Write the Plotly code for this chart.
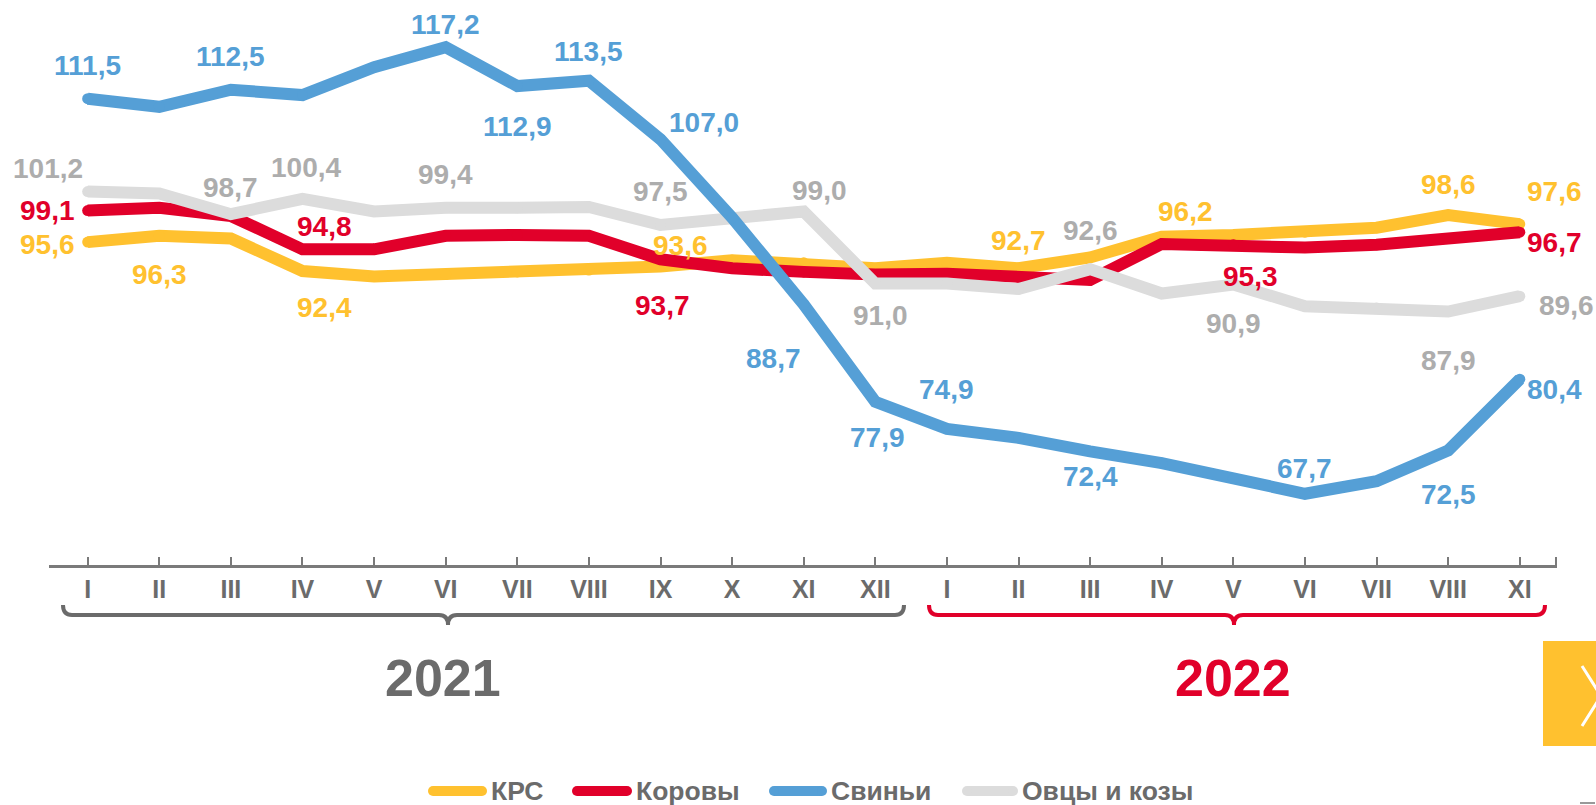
import plotly.graph_objects as go

# ---------------- data ----------------
months = ["I", "II", "III", "IV", "V", "VI", "VII", "VIII", "IX", "X", "XI", "XII",
          "I", "II", "III", "IV", "V", "VI", "VII", "VIII", "XI"]
years = ["2021", "2022"]

krs = [95.6, 96.3, 96.0, 92.4, 91.8, 92.0, 92.3, 92.5, 92.9, 93.6, 93.3, 92.7,
       93.3, 92.7, 93.9, 96.2, 96.4, 96.7, 97.2, 98.6, 97.6]
korovy = [99.1, 99.4, 98.5, 94.8, 94.8, 96.3, 96.4, 96.3, 93.7, 92.7, 92.3, 92.0,
          92.1, 91.7, 91.4, 95.4, 95.3, 95.0, 95.3, 96.0, 96.7]
svini = [111.5, 110.6, 112.5, 111.9, 115.0, 117.2, 112.9, 113.5, 107.0, 98.3, 88.7, 77.9,
         74.9, 73.9, 72.4, 71.1, 69.4, 67.7, 69.1, 72.5, 80.4]
ovtsy = [101.2, 101.0, 98.7, 100.4, 99.0, 99.4, 99.4, 99.5, 97.5, 98.4, 99.0, 91.0,
         91.0, 90.4, 92.6, 89.9, 90.9, 88.5, 88.3, 87.9, 89.6]

series_names = ["КРС", "Коровы", "Свиньи", "Овцы и козы"]

# ---------------- styles ----------------
C_YEL = "#FFC12F"
C_RED = "#E1002A"
C_BLU = "#559FD6"
C_GRY = "#DCDCDC"
C_GRY_TXT = "#ADADAD"
C_AXIS = "#6B6B6B"
FONT = "Liberation Sans, Arial, sans-serif"

W, H = 1596, 805
ML, MR, MT, MB = 49, 39, 10, 240
PW, PH = W - ML - MR, H - MT - MB


def px(x):
    return (x - ML) / PW


def py(y):
    return (H - MB - y) / PH


# label offsets (index: (dx, dy) in pixels, dy positive = down)
lab_off = {
    "Свиньи": {0: (0, -33), 2: (0, -33), 5: (0, -23), 6: (0, 40), 7: (0, -29), 8: (43, -17),
               10: (-30, 54), 11: (2, 36), 12: (0, -39), 14: (0, 25), 17: (0, -25),
               19: (0, 44), 20: (35, 10)},
    "Овцы и козы": {0: (-40, -23), 2: (0, -27), 3: (4, -31), 5: (0, -33), 8: (0, -33),
                    10: (16, -21), 11: (5, 32), 14: (0, -39), 16: (0, 39), 19: (0, 49),
                    20: (47, 9)},
    "Коровы": {0: (-40, 0), 3: (22, -23), 8: (2, 46), 16: (17, 32), 20: (35, 10)},
    "КРС": {0: (-40, 2), 1: (0, 39), 3: (22, 37), 9: (-52, -15), 13: (0, -28),
            15: (24, -25), 19: (0, -31), 20: (35, -33)},
}

data = {"КРС": krs, "Коровы": korovy, "Свиньи": svini, "Овцы и козы": ovtsy}
line_col = {"КРС": C_YEL, "Коровы": C_RED, "Свиньи": C_BLU, "Овцы и козы": C_GRY}
text_col = {"КРС": C_YEL, "Коровы": C_RED, "Свиньи": C_BLU, "Овцы и козы": C_GRY_TXT}
draw_order = ["КРС", "Коровы", "Овцы и козы", "Свиньи"]

xs = list(range(len(months)))

fig = go.Figure()
for name in draw_order:
    fig.add_trace(go.Scatter(
        x=xs, y=data[name], name=name, mode="lines+markers",
        line=dict(color=line_col[name], width=12),
        marker=dict(color=line_col[name], size=11, line=dict(width=0)),
        showlegend=False, hoverinfo="skip"))

annotations = []
for name in draw_order:
    vals = data[name]
    for i, (dx, dy) in lab_off[name].items():
        annotations.append(dict(
            x=i, y=vals[i], xref="x", yref="y",
            text=f"{vals[i]:.1f}".replace(".", ","),
            showarrow=False, xshift=dx, yshift=-dy,
            font=dict(family=FONT, size=28, color=text_col[name], weight="bold")))

# year labels
annotations.append(dict(x=px(443), y=py(678), xref="paper", yref="paper", text=years[0],
                        showarrow=False, xanchor="center", yanchor="middle",
                        font=dict(family=FONT, size=52, color=C_AXIS, weight="bold")))
annotations.append(dict(x=px(1233), y=py(678), xref="paper", yref="paper", text=years[1],
                        showarrow=False, xanchor="center", yanchor="middle",
                        font=dict(family=FONT, size=52, color=C_RED, weight="bold")))

shapes = []


def brace(x0, x1, xm, ytop, yline, ybot, color):
    r = 9
    p = (f"M {px(x0)},{py(ytop)} Q {px(x0)},{py(yline)} {px(x0 + r)},{py(yline)} "
         f"L {px(xm - r)},{py(yline)} Q {px(xm)},{py(yline)} {px(xm)},{py(ybot)} "
         f"Q {px(xm)},{py(yline)} {px(xm + r)},{py(yline)} "
         f"L {px(x1 - r)},{py(yline)} Q {px(x1)},{py(yline)} {px(x1)},{py(ytop)}")
    return dict(type="path", path=p, xref="paper", yref="paper",
                line=dict(color=color, width=4), layer="above")


shapes.append(brace(63, 904, 448, 605, 615, 625, C_AXIS))
shapes.append(brace(929, 1545, 1234, 605, 615, 625, C_RED))

# manual legend
leg_items = [("КРС", 428, 487, 489), ("Коровы", 572, 632, 634),
             ("Свиньи", 769, 827, 829), ("Овцы и козы", 962, 1018, 1020)]
LY = 791
for name, x0, x1, tx in leg_items:
    col = line_col[name]
    shapes.append(dict(type="line", xref="paper", yref="paper",
                       x0=px(x0 + 5), x1=px(x1 - 5), y0=py(LY), y1=py(LY),
                       line=dict(color=col, width=10)))
    for cx in (x0 + 5, x1 - 5):
        shapes.append(dict(type="circle", xref="paper", yref="paper",
                           x0=px(cx - 5), x1=px(cx + 5), y0=py(LY - 5), y1=py(LY + 5),
                           fillcolor=col, line=dict(width=0)))
    annotations.append(dict(x=px(tx), y=py(LY), xref="paper", yref="paper", text=name,
                            showarrow=False, xanchor="left", yanchor="middle",
                            font=dict(family=FONT, size=26.5, color=C_AXIS, weight="bold")))

# yellow next button
shapes.append(dict(type="rect", xref="paper", yref="paper",
                   x0=px(1543), x1=px(1600), y0=py(641), y1=py(746),
                   fillcolor=C_YEL, line=dict(width=0)))
shapes.append(dict(type="path", xref="paper", yref="paper",
                   path=f"M {px(1582)},{py(666)} L {px(1601)},{py(696)} L {px(1582)},{py(726)}",
                   line=dict(color="white", width=3)))
shapes.append(dict(type="line", xref="paper", yref="paper",
                   x0=px(1580), x1=px(1595), y0=py(803), y1=py(803),
                   line=dict(color="#777777", width=1.5)))

v_top = 111.5 + (98.7 - MT) / 9.02
v_bot = 111.5 - (H - MB - 98.7) / 9.02

fig.update_layout(
    width=W, height=H,
    margin=dict(l=ML, r=MR, t=MT, b=MB, pad=0),
    plot_bgcolor="white", paper_bgcolor="white",
    showlegend=False,
    xaxis=dict(range=[-0.54, 20.52], tickvals=xs + [20.5], ticktext=months + [""],
               showgrid=False, zeroline=False, showline=True, linecolor="#7A7A7A",
               linewidth=3, ticks="inside", ticklen=8, tickwidth=2, tickcolor="#7A7A7A",
               tickfont=dict(family=FONT, size=25, color=C_AXIS, weight="bold"),
               ticklabelstandoff=0, fixedrange=True),
    yaxis=dict(range=[v_bot, v_top], visible=False, showgrid=False, zeroline=False,
               fixedrange=True),
    annotations=annotations,
    shapes=shapes,
)

fig.write_html("out.html", config={"displayModeBar": False},
               post_script="document.body.style.margin='0';document.body.style.overflow='hidden';")
